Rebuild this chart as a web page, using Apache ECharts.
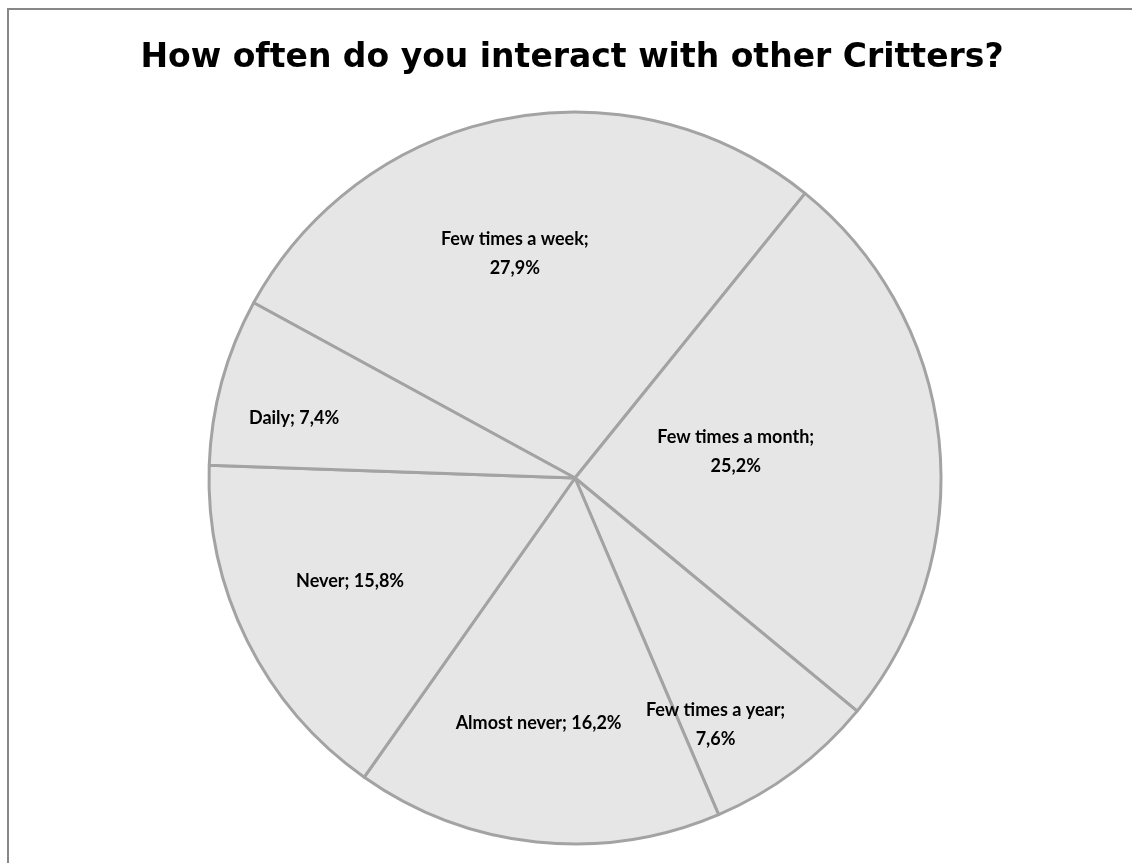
<!DOCTYPE html>
<html>
<head>
<meta charset="utf-8">
<script src="https://cdn.jsdelivr.net/npm/echarts@6/dist/echarts.min.js"></script>
<style>
  html, body { margin: 0; padding: 0; background: #ffffff; }
  #chart { width: 1132px; height: 863px; }
</style>
</head>
<body>
<div id="chart"></div>
<script>
// ---- data ----
const titleText = 'How often do you interact with other Critters?';
const categories = ['Few times a week', 'Few times a month', 'Few times a year', 'Almost never', 'Never', 'Daily'];
const values = [27.9, 25.2, 7.6, 16.2, 15.8, 7.4];
const twoLineLabel = [true, true, true, false, false, false];

// ---- layout / style ----
const CX = 575, CY = 478, R = 366;
const START_COMPASS = 298.6;               // degrees clockwise from 12 o'clock
const labelRadiusFrac = [0.634, 0.445, 0.776, 0.678, 0.676, 0.785];
const labelAngleShift = [-3.8, -3.5, 7.1, 2.4, 1.8, -3.2];

const total = values.reduce((a, b) => a + b, 0);
const cumBefore = [];
values.reduce((acc, v, i) => { cumBefore[i] = acc; return acc + v; }, 0);

function fmt(v) { return String(v).replace('.', ','); }

const chart = echarts.init(document.getElementById('chart'), null, { renderer: 'canvas' });
chart.setOption({
  backgroundColor: '#ffffff',
  animation: false,
  title: {
    text: titleText,
    left: 567,
    textAlign: 'center',
    top: 37,
    textStyle: {
      fontFamily: 'DejaVu Sans',
      fontWeight: 'bold',
      fontSize: 33,
      color: '#000000'
    }
  },
  graphic: [{
    type: 'rect',
    shape: { x: 8, y: 9, width: 1300, height: 1000 },
    style: { fill: 'none', stroke: '#878787', lineWidth: 2 },
    silent: true,
    z: 100
  }],
  series: [{
    type: 'pie',
    center: [CX, CY],
    radius: R,
    startAngle: 90 - START_COMPASS,
    clockwise: true,
    avoidLabelOverlap: false,
    data: categories.map((c, i) => ({ name: c, value: values[i] })),
    itemStyle: {
      color: '#e6e6e6',
      borderColor: '#a3a3a3',
      borderWidth: 3
    },
    emphasis: { disabled: true },
    label: {
      show: true,
      position: 'inside',
      align: 'center',
      verticalAlign: 'middle',
      fontFamily: 'Lato',
      fontWeight: 'bold',
      fontSize: 18,
      lineHeight: 29,
      color: '#000000',
      formatter: function (p) {
        const sep = twoLineLabel[p.dataIndex] ? ';\n' : '; ';
        return p.name + sep + fmt(values[p.dataIndex]) + '%';
      }
    },
    labelLine: { show: false },
    labelLayout: function (params) {
      const i = params.dataIndex;
      const mid = START_COMPASS + (cumBefore[i] + values[i] / 2) / total * 360 + labelAngleShift[i];
      const a = mid * Math.PI / 180;
      const r = R * labelRadiusFrac[i];
      return {
        x: CX + r * Math.sin(a),
        y: CY - r * Math.cos(a),
        align: 'center',
        verticalAlign: 'middle'
      };
    }
  }]
});
</script>
</body>
</html>
